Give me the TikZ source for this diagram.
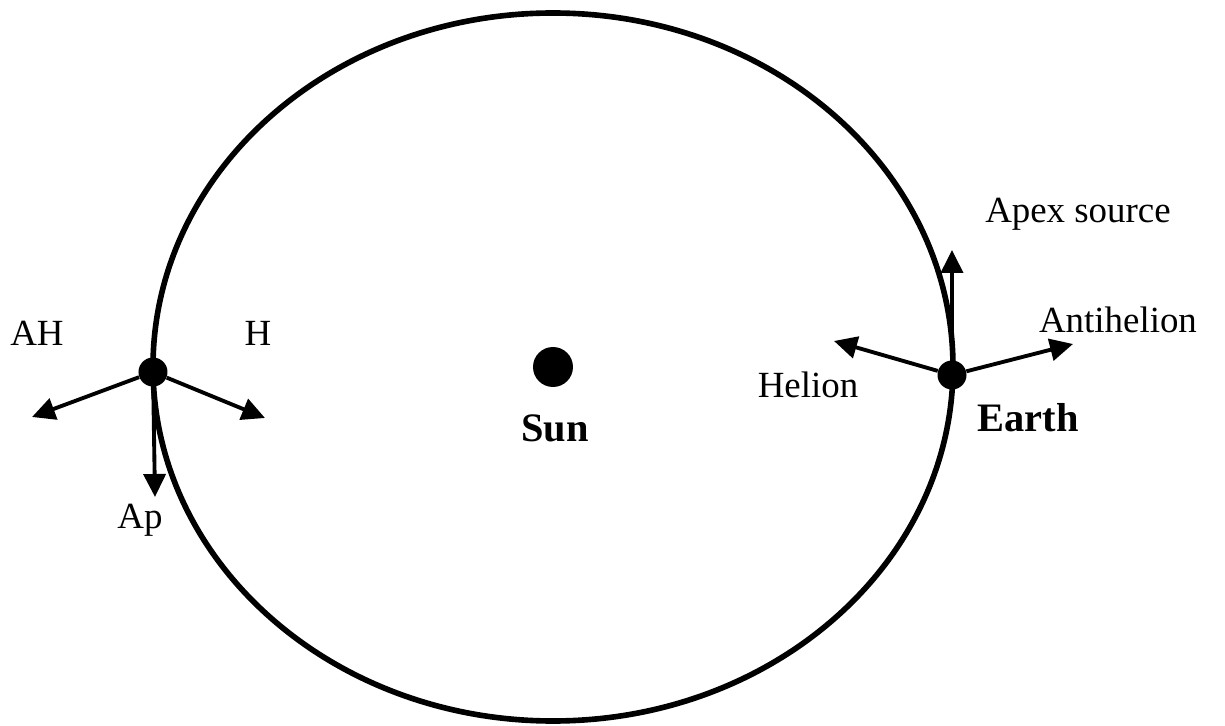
\documentclass[tikz,border=0pt]{standalone}
\usepackage{fontspec}
\setmainfont{Liberation Serif}
\usetikzlibrary{arrows.meta}
\tikzstyle{planet} = [circle, fill=black, minimum size=0.58cm, inner sep=0]
\tikzstyle{vec} = [line width=2.2pt, -{Triangle[length=0.46cm, width=0.44cm]}]
\tikzstyle{lab} = [font=\fontsize{21}{25}\selectfont]
\tikzstyle{boldlab} = [font=\fontsize{23}{27}\selectfont\bfseries]

\begin{document}
\begin{tikzpicture}
    \useasboundingbox (-11.06,-7.18) rectangle (13.44,7.34);

    % Orbit
    \draw[line width=3.2pt] (0,0) ellipse (8cm and 7.08cm);

    % Sun
    \node (sun) at (0,0) [circle, fill=black, minimum size=0.8cm, inner sep=0] {};
    \node (sunlab) at (0.04,-1.22) [boldlab] {Sun};

    % Left position: AH, H, Ap
    \node (left) at (-8,-0.1) [planet] {};
    \coordinate (ahtip) at (-10.42,-1.0);
    \coordinate (htip) at (-5.76,-1.02);
    \coordinate (aptip) at (-7.96,-2.6);
    \draw[vec] (left) -- (ahtip);
    \draw[vec] (left) -- (htip);
    \draw[vec] (left) -- (aptip);
    \node (ahlab) at (-10.32,0.68) [lab] {AH};
    \node (hlab) at (-5.9,0.68) [lab] {H};
    \node (aplab) at (-8.26,-3.06) [lab] {Ap};

    % Earth: apex, helion, antihelion
    \node (earth) at (7.98,-0.16) [planet] {};
    \coordinate (apextip) at (7.98,2.34);
    \coordinate (heltip) at (5.62,0.52);
    \coordinate (antitip) at (10.4,0.46);
    \draw[vec] (earth) -- (apextip);
    \draw[vec] (earth) -- (heltip);
    \draw[vec] (earth) -- (antitip);
    \node (apexlab) at (10.5,3.06) [lab] {Apex source};
    \node (antilab) at (11.3,0.94) [lab] {Antihelion};
    \node (hellab) at (5.1,-0.36) [lab] {Helion};
    \node (earthlab) at (9.5,-1.02) [boldlab] {Earth};

\end{tikzpicture}
\end{document}
